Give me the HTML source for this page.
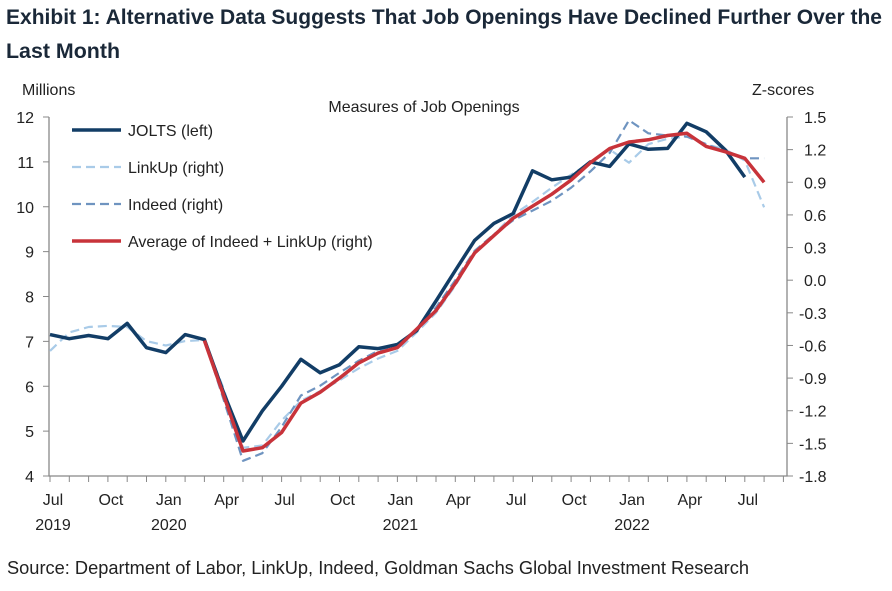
<!DOCTYPE html>
<html><head><meta charset="utf-8"><style>
body{margin:0;background:#fff;width:892px;height:586px;overflow:hidden}
svg text{font-family:"Liberation Sans",sans-serif;fill:#222}
.t{font-family:"Liberation Sans",sans-serif;font-weight:bold;fill:#1a2838}
</style></head><body>
<svg id="c" width="892" height="586">
<text class="t" x="6" y="24" font-size="21" textLength="876" lengthAdjust="spacingAndGlyphs">Exhibit 1: Alternative Data Suggests That Job Openings Have Declined Further Over the</text>
<text class="t" x="6" y="58" font-size="21" textLength="114" lengthAdjust="spacingAndGlyphs">Last Month</text>
<text x="22" y="95" font-size="16">Millions</text>
<text x="752" y="95" font-size="16">Z-scores</text>
<text x="424" y="112" font-size="16" text-anchor="middle">Measures of Job Openings</text>
<text x="7" y="574" font-size="18" textLength="742" lengthAdjust="spacingAndGlyphs">Source: Department of Labor, LinkUp, Indeed, Goldman Sachs Global Investment Research</text>
<g id="axes"></g><g id="series"></g><g id="legend"></g>
</svg>
<script>
const monthLabels=["Jul","Oct","Jan","Apr","Jul","Oct","Jan","Apr","Jul","Oct","Jan","Apr","Jul"];
const yearLabels=["2019","2020","2021","2022"];
const yearIdx=[0,6,18,30];
const leftTicks=[4,5,6,7,8,9,10,11,12];
const rightTicks=[-1.8,-1.5,-1.2,-0.9,-0.6,-0.3,0.0,0.3,0.6,0.9,1.2,1.5];
const jolts=[7.15,7.06,7.13,7.06,7.4,6.86,6.75,7.15,7.04,5.85,4.78,5.45,6.0,6.6,6.3,6.48,6.88,6.84,6.93,7.24,7.9,8.58,9.25,9.63,9.85,10.8,10.6,10.66,11.0,10.9,11.4,11.28,11.3,11.86,11.67,11.26,10.66];
const linkup=[-0.65,-0.48,-0.43,-0.42,-0.43,-0.56,-0.6,-0.56,-0.55,-1.0,-1.54,-1.52,-1.29,-1.11,-1.02,-0.92,-0.81,-0.72,-0.65,-0.48,-0.3,-0.05,0.25,0.42,0.6,0.72,0.85,0.97,1.08,1.2,1.08,1.25,1.3,1.32,1.25,1.2,1.1,0.67];
const indeedStart=8;
const indeed=[-0.55,-1.1,-1.66,-1.59,-1.35,-1.06,-0.97,-0.85,-0.74,-0.65,-0.6,-0.45,-0.25,0.0,0.27,0.42,0.55,0.64,0.73,0.85,1.0,1.17,1.47,1.35,1.33,1.32,1.25,1.18,1.12,1.12];
const avgStart=8;
const avg=[-0.555,-1.06,-1.57,-1.54,-1.40,-1.13,-1.03,-0.9,-0.76,-0.67,-0.62,-0.45,-0.28,-0.03,0.25,0.41,0.57,0.68,0.79,0.92,1.08,1.21,1.27,1.29,1.33,1.35,1.23,1.18,1.12,0.90];
const NS="http://www.w3.org/2000/svg";
const X0=49,X1=787,Y0=476,YT=117;
const xS=i=>50+19.3*i;
const yL=v=>YT+(12-v)*(Y0-YT)/8;
const yR=z=>YT+(1.5-z)*(Y0-YT)/3.3;
function mk(tag,at,parent){const e=document.createElementNS(NS,tag);for(const k in at)e.setAttribute(k,at[k]);parent.appendChild(e);return e;}
const ax=document.getElementById('axes');
let e=mk('path',{d:`M${X0},${YT}V${Y0}H${X1}V${YT}`,stroke:'#888',fill:'none','stroke-width':1.3},ax);


leftTicks.forEach(v=>{const y=yL(v);
 let t=mk('line',{x1:43,x2:X0,y1:y,y2:y,stroke:'#888'},ax);
 
 
 let l=mk('text',{x:34,y:y+6,'font-size':16,'text-anchor':'end'},ax);l.textContent=v;
 
 });
rightTicks.forEach(v=>{const y=yR(v);
 let t=mk('line',{x1:X1,x2:X1+6,y1:y,y2:y,stroke:'#888'},ax);
 
 
 let l=mk('text',{x:v<0?799:804,y:y+6,'font-size':16},ax);l.textContent=v.toFixed(1);
 
 });
for(let i=0;i<=38;i++){const x=xS(i);if(x>X1)break;
 let t=mk('line',{x1:x,x2:x,y1:Y0,y2:Y0+6,stroke:'#888'},ax);
 
 }
monthLabels.forEach((m,k)=>{let l=mk('text',{x:xS(k*3)+3,y:505,'font-size':16,'text-anchor':'middle'},ax);l.textContent=m;
 
 });
yearLabels.forEach((yv,k)=>{let l=mk('text',{x:xS(yearIdx[k])+3,y:530,'font-size':16,'text-anchor':'middle'},ax);l.textContent=yv;
 
 });
const sg=document.getElementById('series');
function line(vals,start,yf,st,name){const d=vals.map((v,i)=>(i?'L':'M')+xS(i+start).toFixed(1)+','+yf(v).toFixed(1)).join('');
 const p=mk('path',Object.assign({d,fill:'none','stroke-linejoin':'round'},st),sg);
 
 }
line(linkup,0,yR,{stroke:'#a9cbe8','stroke-width':2.2,'stroke-dasharray':'9,5'},'linkup-line');
line(indeed,indeedStart,yR,{stroke:'#6f94c0','stroke-width':2.2,'stroke-dasharray':'9,5'},'indeed-line');
line(jolts,0,yL,{stroke:'#123d66','stroke-width':3.5},'jolts-line');
line(avg,avgStart,yR,{stroke:'#c8333a','stroke-width':3.5},'average-line');
const lg=document.getElementById('legend');
const items=[["JOLTS (left)",{stroke:'#123d66','stroke-width':3.5},'legend-jolts'],["LinkUp (right)",{stroke:'#a9cbe8','stroke-width':2.2,'stroke-dasharray':'9,5'},'legend-linkup'],["Indeed (right)",{stroke:'#6f94c0','stroke-width':2.2,'stroke-dasharray':'9,5'},'legend-indeed'],["Average of Indeed + LinkUp (right)",{stroke:'#c8333a','stroke-width':3.5},'legend-average']];
items.forEach((it,k)=>{const y=130+k*37;
 const g=mk('g',{},lg);
 
 
 mk('line',Object.assign({x1:72,x2:121,y1:y,y2:y},it[1]),g);
 const t=mk('text',{x:128,y:y+6,'font-size':16},g);t.textContent=it[0];});
</script>
</body></html>
